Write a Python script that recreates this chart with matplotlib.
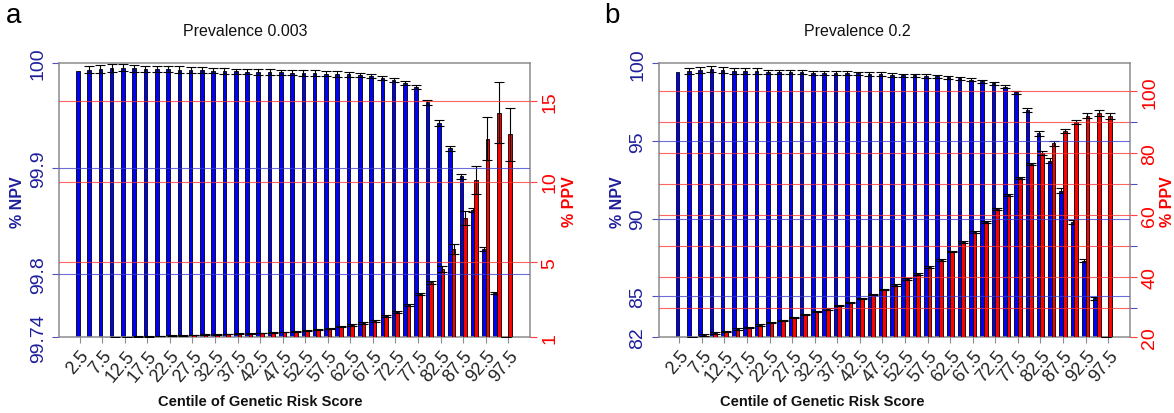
import numpy as np
import matplotlib
matplotlib.use('Agg')  # no display
import matplotlib.pyplot as plt
import matplotlib.transforms as mtransforms

plt.rcParams['font.family'] = ['Liberation Sans', 'DejaVu Sans']

# centile thresholds (every other one is labelled)
centiles = [2.5, 5, 7.5, 10, 12.5, 15, 17.5, 20, 22.5, 25, 27.5, 30, 32.5, 35, 37.5,
            40, 42.5, 45, 47.5, 50, 52.5, 55, 57.5, 60, 62.5, 65, 67.5, 70, 72.5, 75,
            77.5, 80, 82.5, 85, 87.5, 90, 92.5, 95, 97.5]
tick_labels = ["2.5", "7.5", "12.5", "17.5", "22.5", "27.5", "32.5", "37.5", "42.5", "47.5",
               "52.5", "57.5", "62.5", "67.5", "72.5", "77.5", "82.5", "87.5", "92.5", "97.5"]

# Prevalence 0.003
npv_a = [99.9927, 99.9937, 99.9943, 99.9953, 99.9956, 99.9950, 99.9943, 99.9943, 99.9940,
         99.9937, 99.9934, 99.9931, 99.9927, 99.9924, 99.9921, 99.9918, 99.9915, 99.9915,
         99.9910, 99.9908, 99.9905, 99.9905, 99.9900, 99.9896, 99.9893, 99.9886, 99.9874,
         99.9860, 99.9842, 99.9807, 99.9770, 99.9627, 99.9430, 99.9190, 99.8925, 99.8610,
         99.8235, 99.7824, 99.7400]
npv_a_err = [0, 0.0035, 0.0035, 0.0035, 0.0035, 0.0035, 0.003, 0.003, 0.003, 0.003, 0.003,
             0.003, 0.0025, 0.0025, 0.0025, 0.0025, 0.0025, 0.0025, 0.0025, 0.0025, 0.0025,
             0.0025, 0.0025, 0.0025, 0.0025, 0.002, 0.002, 0.002, 0.002, 0.002, 0.002,
             0.0022, 0.0025, 0.0025, 0.0025, 0.002, 0.002, 0.001, 0]
ppv_a = [0.20, 0.25, 0.30, 0.37, 0.39, 0.41, 0.43, 0.45, 0.47, 0.49, 0.51, 0.53, 0.55, 0.57,
         0.59, 0.61, 0.64, 0.67, 0.70, 0.74, 0.78, 0.84, 0.93, 1.05, 1.13, 1.25, 1.39, 1.67,
         1.95, 2.36, 3.04, 3.76, 4.59, 5.82, 7.72, 10.08, 12.65, 14.26, 12.92]
ppv_a_err = [0.02, 0.02, 0.02, 0.02, 0.02, 0.02, 0.02, 0.02, 0.02, 0.02, 0.02, 0.02, 0.02,
             0.02, 0.02, 0.02, 0.02, 0.02, 0.02, 0.02, 0.03, 0.03, 0.04, 0.04, 0.05, 0.05,
             0.05, 0.06, 0.06, 0.06, 0.06, 0.08, 0.18, 0.31, 0.43, 0.87, 1.34, 1.87, 1.65]

# Prevalence 0.2
npv_b = [99.42, 99.50, 99.57, 99.63, 99.59, 99.52, 99.50, 99.52, 99.46, 99.44, 99.42, 99.42,
         99.37, 99.37, 99.37, 99.37, 99.35, 99.33, 99.29, 99.25, 99.22, 99.22, 99.18, 99.16,
         99.10, 99.03, 98.94, 98.84, 98.71, 98.50, 98.13, 96.99, 95.49, 93.73, 91.80, 89.76,
         87.29, 84.87, 82.36]
npv_b_err = [0, 0.2, 0.2, 0.2, 0.2, 0.2, 0.2, 0.2, 0.12, 0.12, 0.12, 0.12, 0.12, 0.12, 0.12,
             0.12, 0.12, 0.12, 0.12, 0.12, 0.1, 0.1, 0.1, 0.1, 0.1, 0.1, 0.1, 0.1, 0.1, 0.1,
             0.1, 0.15, 0.18, 0.18, 0.15, 0.12, 0.1, 0.08, 0]
ppv_b = [20.3, 20.65, 21.4, 22.0, 22.6, 23.3, 23.9, 24.6, 25.3, 26.0, 27.0, 27.9, 28.9, 29.8,
         30.8, 31.9, 33.2, 34.4, 36.0, 37.5, 39.5, 41.1, 43.2, 45.7, 48.3, 51.3, 54.5, 57.9,
         62.0, 66.6, 71.9, 76.5, 80.0, 83.2, 87.1, 90.0, 92.1, 93.0, 92.1]
ppv_b_err = [0.2, 0.05, 0.2, 0.2, 0.2, 0.2, 0.2, 0.2, 0.2, 0.2, 0.2, 0.2, 0.2, 0.2, 0.2, 0.2,
             0.2, 0.2, 0.2, 0.2, 0.3, 0.3, 0.3, 0.3, 0.3, 0.3, 0.3, 0.3, 0.3, 0.3, 0.3, 0.4,
             0.7, 0.8, 0.6, 0.6, 0.8, 0.9, 0.9]

NPV_COL = '#1f1f9c'
PPV_COL = '#ff0000'
FRAME = '#8c8c8c'
W = 1174.0
H = 414.0


def draw_panel(rect, npv, npv_err, ppv, ppv_err, npv_lim, ppv_lim,
               npv_ticks, npv_labels, ppv_ticks, ppv_labels,
               npv_grid, ppv_grid, ppv_minor=None):
    ax = fig.add_axes(rect)
    ax2 = ax.twinx()
    x = np.arange(len(centiles))
    w = 0.32

    # NPV bars on the left axis
    ax.bar(x - w / 2, npv, width=w, color='#0000ff', edgecolor='black', linewidth=0.6)
    ax.errorbar((x - w / 2)[1:], npv[1:], yerr=npv_err[1:], fmt='none', ecolor='black',
                elinewidth=0.8, capsize=3.8, capthick=0.8, zorder=4)
    ax.set_ylim(*npv_lim)

    # PPV bars on the right axis
    ax2.bar(x + w / 2, ppv, width=w, color='#ff0000', edgecolor='black', linewidth=0.6)
    ax2.errorbar(x + w / 2, ppv, yerr=ppv_err, fmt='none', ecolor='black',
                 elinewidth=0.8, capsize=3.8, capthick=0.8, zorder=4)
    ax2.set_ylim(*ppv_lim)

    # grid lines over the bars
    trans = mtransforms.blended_transform_factory(ax2.transAxes, ax.transData)
    for v in npv_grid:
        ax2.plot([0, 1], [v, v], transform=trans, color='#3b3bd0', lw=0.8, alpha=0.75, zorder=6)
    for v in ppv_grid:
        ax2.axhline(v, color='#ff3030', lw=0.8, alpha=0.75, zorder=6)

    ax.set_xlim(-1.8, 39.93)
    ax.set_xticks(x[::2])
    ax.set_xticklabels(tick_labels, rotation=50, ha='right', rotation_mode='anchor',
                       fontsize=13, color='#222222')
    ax.tick_params(axis='x', length=4, width=0.8, color=FRAME, pad=3)

    ax.set_yticks(npv_ticks)
    ax.set_yticklabels(npv_labels, rotation=90, va='center', fontsize=14, color=NPV_COL)
    ax.tick_params(axis='y', length=5, width=0.8, color='#5050c0', pad=4)

    ax2.set_yticks(ppv_ticks)
    ax2.set_yticklabels(ppv_labels, rotation=90, va='center', fontsize=14, color=PPV_COL)
    ax2.tick_params(axis='y', length=5, width=0.8, color='#ff4040', pad=3)
    if ppv_minor is not None:
        ax2.set_yticks(ppv_minor, minor=True)
        ax2.tick_params(axis='y', which='minor', length=5, width=0.8, color='#5050c0')

    for sp in ax.spines.values():
        sp.set_color(FRAME)
        sp.set_linewidth(1.1)
    for sp in ax2.spines.values():
        sp.set_visible(False)
    return ax, ax2


fig = plt.figure(figsize=(W / 100, H / 100), dpi=100)

bottom = 1 - 338.3 / H
height = (338.3 - 64) / H

draw_panel([59.3 / W, bottom, (530 - 59.3) / W, height],
           npv_a, npv_a_err, ppv_a, ppv_a_err,
           (99.74, 100.0), (0.37, 17.33),
           [99.74, 99.8, 99.9, 100.0], ['99.74', '99.8', '99.9', '100'],
           [0.37, 5, 10, 15], ['1', '5', '10', '15'],
           [99.8, 99.9], [5, 10, 15])

draw_panel([659 / W, bottom, (1130 - 659) / W, height],
           npv_b, npv_b_err, ppv_b, ppv_b_err,
           (82.36, 100.02), (20.65, 109.1),
           [82.36, 85, 90, 95, 100], ['82', '85', '90', '95', '100'],
           [20.65, 40, 60, 80, 100], ['20', '40', '60', '80', '100'],
           [85, 90, 95], [30, 40, 50, 60, 70, 80, 90, 100],
           ppv_minor=[30, 50, 70, 90])

# titles, axis labels and panel letters in figure pixels
def ftext(px, py, s, **kw):
    fig.text(px / W, 1 - py / H, s, ha='center', va='center', **kw)

ftext(245, 32, 'Prevalence 0.003', fontsize=11.5, color='#111111')
ftext(857, 32, 'Prevalence 0.2', fontsize=11.5, color='#111111')
ftext(260, 402, 'Centile of Genetic Risk Score', fontsize=10.5, fontweight='bold', color='#111111')
ftext(822, 402, 'Centile of Genetic Risk Score', fontsize=10.5, fontweight='bold', color='#111111')
ftext(17.5, 202, '% NPV', fontsize=11.5, fontweight='bold', color=NPV_COL, rotation=90)
ftext(569, 202, '% PPV', fontsize=11.5, fontweight='bold', color=PPV_COL, rotation=90)
ftext(617, 202, '% NPV', fontsize=11.5, fontweight='bold', color=NPV_COL, rotation=90)
ftext(1167, 202, '% PPV', fontsize=11.5, fontweight='bold', color=PPV_COL, rotation=90)
ftext(14, 16, 'a', fontsize=20, color='black')
ftext(612, 16, 'b', fontsize=20, color='black')

fig.savefig('out.png', dpi=100)
